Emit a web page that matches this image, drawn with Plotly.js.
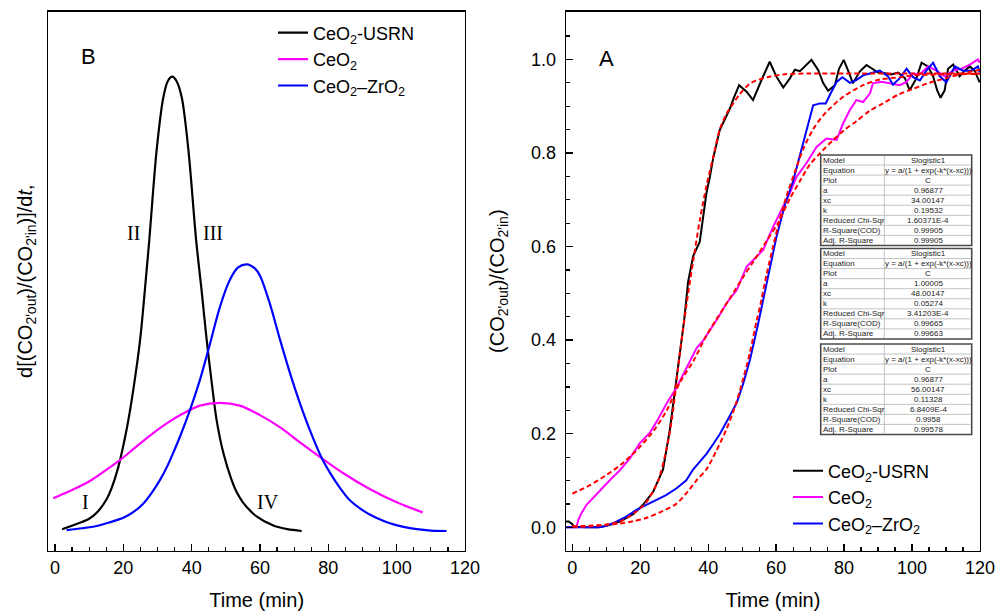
<!DOCTYPE html>
<html><head><meta charset="utf-8">
<script src="https://cdn.plot.ly/plotly-3.0.1.min.js"></script>
<style>html,body{margin:0;padding:0;background:#fff}#chart{width:1001px;height:613px}</style>
</head><body><div id="chart"></div>
<script>
// ---------- DATA ----------
const seriesNames = ["CeO<sub>2</sub>-USRN", "CeO<sub>2</sub>", "CeO<sub>2</sub>–ZrO<sub>2</sub>"];
const seriesColors = ["#000000", "#ff00ff", "#0000ff"];
const fitColor = "#ff0000";

// Panel B : derivative curves [time, relative value]
const derivUSRN = [[2.1,0.004],[7.3,0.018],[10.0,0.027],[12.2,0.040],[15.1,0.070],[16.6,0.095],[18.5,0.140],[21.0,0.225],[22.9,0.310],[24.9,0.420],[26.3,0.530],[27.6,0.641],[29.8,0.842],[31.7,0.954],[33.0,0.990],[34.3,1.0],[35.6,0.990],[37.1,0.954],[39.0,0.842],[41.3,0.641],[42.9,0.530],[44.4,0.420],[45.9,0.325],[47.3,0.244],[49.3,0.171],[51.7,0.112],[53.2,0.085],[55.1,0.062],[59.0,0.032],[63.9,0.012],[68.0,0.004],[72.2,0.0]];
const derivCeO2 = [[-0.5,0.072],[5.0,0.090],[10.2,0.110],[13.2,0.125],[18.5,0.153],[22.9,0.180],[27.8,0.210],[32.7,0.237],[37.6,0.259],[42.4,0.276],[48.3,0.282],[54.1,0.276],[60.0,0.255],[65.9,0.228],[71.7,0.195],[78.1,0.160],[84.4,0.127],[91.7,0.094],[100.0,0.063],[107.6,0.041]];
const derivZr = [[3.4,0.002],[8.0,0.006],[12.2,0.011],[16.0,0.019],[20.0,0.029],[23.0,0.042],[25.8,0.060],[28.3,0.084],[30.7,0.112],[32.7,0.140],[34.6,0.172],[36.6,0.208],[39.5,0.266],[42.4,0.332],[45.4,0.413],[48.3,0.494],[51.2,0.553],[53.6,0.580],[56.1,0.587],[58.5,0.578],[60.0,0.562],[62.9,0.500],[65.9,0.420],[68.8,0.347],[71.7,0.281],[74.6,0.222],[78.1,0.160],[80.5,0.128],[83.4,0.095],[86.0,0.070],[90.2,0.045],[94.0,0.029],[98.0,0.017],[102.0,0.009],[105.9,0.004],[110.0,0.001],[114.6,0.0]];
const romanLabels = ["I", "II", "III", "IV"];

// Panel A : breakthrough curves [time, (CO2out)/(CO2in)]
const convUSRN = [[-1.85,0.012],[-1.2,0.013],[-0.2,0.008],[0.6,0.001],[4,0],[7.6,0],[10.1,0.003],[14.0,0.012],[17.9,0.028],[20.8,0.048],[23.8,0.076],[26.7,0.123],[28.7,0.208],[29.7,0.266],[31.7,0.374],[32.9,0.441],[34.1,0.525],[35.6,0.580],[37.5,0.610],[39.5,0.715],[40.5,0.749],[41.5,0.790],[43.4,0.849],[45.4,0.880],[46.4,0.895],[47.4,0.915],[49.1,0.945],[51.3,0.931],[53.2,0.913],[55.7,0.956],[58.1,0.995],[60.1,0.963],[62.1,0.940],[64.0,0.959],[65.5,0.978],[67.0,0.975],[68.4,0.985],[70.4,0.999],[72.4,0.977],[73.8,0.950],[75.3,0.933],[77.3,0.945],[78.5,0.980],[79.9,0.999],[81.5,0.970],[82.6,0.949],[84.6,0.974],[86.6,0.988],[88.3,0.980],[90.0,0.972],[92.5,0.970],[93.9,0.968],[95.9,0.972],[97.9,0.960],[99.3,0.934],[101.3,0.960],[102.8,0.993],[104.7,0.985],[106.2,0.964],[107.4,0.934],[108.4,0.918],[109.6,0.934],[110.6,0.980],[112.1,0.989],[114.0,0.964],[115.5,0.976],[117.0,0.985],[118.4,0.976],[119.9,0.951]];
const convCeO2 = [[-1.85,0],[1.2,0],[1.8,0.016],[2.7,0.030],[4.2,0.048],[6.2,0.064],[8.6,0.083],[11.1,0.101],[14.0,0.122],[17.0,0.148],[19.9,0.180],[22.9,0.203],[25.0,0.228],[27.8,0.265],[30.7,0.299],[33.6,0.341],[36.6,0.383],[38.5,0.399],[41.5,0.433],[42.5,0.443],[45.4,0.479],[48.4,0.507],[51.3,0.557],[54.2,0.578],[56.2,0.593],[59.1,0.642],[62.1,0.685],[64.0,0.714],[66.0,0.749],[68.9,0.778],[71.9,0.813],[74.8,0.831],[77.8,0.828],[79.7,0.863],[81.7,0.892],[83.6,0.913],[85.6,0.909],[87.6,0.927],[88.5,0.949],[91.0,0.952],[93.4,0.949],[96.4,0.945],[98.4,0.952],[100.3,0.970],[102.3,0.968],[104.7,0.985],[107.2,0.976],[109.6,0.964],[112.1,0.976],[114.5,0.980],[117.0,0.989],[119.4,1.0],[119.9,0.993]];
const convZr = [[-1.85,0],[8,0],[10.1,0.003],[13.0,0.012],[15.9,0.023],[18.9,0.037],[21.8,0.048],[24.7,0.058],[27.6,0.069],[30.6,0.083],[33.5,0.100],[35.6,0.124],[37.6,0.140],[39.5,0.157],[41.5,0.178],[43.4,0.199],[45.9,0.232],[48.4,0.266],[50.3,0.307],[52.3,0.358],[54.7,0.435],[57.2,0.521],[60.1,0.621],[62.6,0.690],[65.0,0.740],[67.0,0.795],[68.9,0.845],[70.9,0.902],[72.9,0.906],[74.6,0.906],[75.8,0.924],[77.8,0.952],[79.5,0.962],[81.7,0.950],[83.6,0.956],[85.6,0.966],[87.6,0.970],[90.5,0.976],[92.9,0.964],[94.4,0.946],[96.4,0.960],[98.4,0.980],[100.3,0.962],[102.3,0.955],[104.2,0.976],[106.2,0.993],[108.2,0.964],[110.1,0.951],[112.6,0.985],[115.0,0.976],[117.5,0.976],[119.4,0.985],[119.9,0.972]];

// Slogistic1 fitted curves (red dashed)
const fitUSRN = [[0,0.001],[5,0.002],[10,0.006],[14,0.012],[18,0.029],[21.8,0.054],[25.3,0.100],[27.8,0.170],[29.3,0.230],[31.7,0.374],[33.6,0.475],[35.6,0.570],[37.6,0.659],[39.5,0.730],[41.5,0.792],[43.4,0.850],[45.4,0.884],[47.4,0.906],[49.3,0.926],[52.2,0.948],[54.2,0.955],[58,0.963],[62.1,0.968],[70,0.970],[80,0.970],[100,0.970],[120,0.970]];
const fitCeO2 = [[0,0.072],[5.2,0.090],[10.1,0.112],[15.0,0.138],[19.9,0.172],[24.3,0.210],[27.8,0.250],[31.7,0.310],[35.6,0.355],[39.5,0.410],[42.0,0.440],[46,0.485],[50.3,0.535],[53.5,0.570],[57.2,0.612],[60.5,0.650],[64.0,0.702],[67,0.740],[69.9,0.775],[73,0.800],[76.8,0.828],[80.2,0.850],[83.6,0.868],[87.5,0.890],[91.5,0.906],[96,0.925],[100.3,0.937],[105,0.950],[110,0.960],[115,0.970],[120,0.978]];
const fitZr = [[0,0.002],[10,0.005],[14,0.008],[17.9,0.013],[21.8,0.020],[26.7,0.035],[30.6,0.050],[33.6,0.073],[36.5,0.100],[39.5,0.124],[42.5,0.165],[45.4,0.210],[47.5,0.250],[49.3,0.291],[52.3,0.374],[54.2,0.440],[55.2,0.470],[57.2,0.541],[59.1,0.600],[61.1,0.659],[63.1,0.709],[65.5,0.759],[68.0,0.809],[70.9,0.851],[73.8,0.880],[75.8,0.895],[79.7,0.920],[85.6,0.945],[90.5,0.957],[96.4,0.962],[100.3,0.966],[110,0.968],[120,0.969]];

// Fit-result tables
const tableRowLabels = ["Model","Equation","Plot","a","xc","k","Reduced Chi-Sqr","R-Square(COD)","Adj. R-Square"];
const fitTableUSRN = ["Slogistic1","y = a/(1 + exp(-k*(x-xc)))","C","0.96877","34.00147","0.19532","1.60371E-4","0.99905","0.99905"];
const fitTableCeO2 = ["Slogistic1","y = a/(1 + exp(-k*(x-xc)))","C","1.00005","48.00147","0.05274","3.41203E-4","0.99665","0.99663"];
const fitTableZr   = ["Slogistic1","y = a/(1 + exp(-k*(x-xc)))","C","0.96877","56.00147","0.11328","6.8409E-4","0.9958","0.99578"];

// ---------- DRAWING ----------
const W = 1001, H = 613;
const PX = p => p / W;
const PY = p => 1 - p / H;
const FONT = "Liberation Sans, Arial, Helvetica, sans-serif";
const xs = arr => arr.map(p => p[0]);
const ys = arr => arr.map(p => p[1]);

const traces = [];
[derivUSRN, derivCeO2, derivZr].forEach((s, i) => {
  traces.push({x: xs(s), y: ys(s), xaxis: "x", yaxis: "y", type: "scatter", mode: "lines",
    name: seriesNames[i], legend: "legend", legendgroup: "b" + i,
    line: {color: seriesColors[i], width: 2.2, shape: "spline", smoothing: 0.9}});
});
[convUSRN, convCeO2, convZr].forEach((s, i) => {
  traces.push({x: xs(s), y: ys(s), xaxis: "x2", yaxis: "y2", type: "scatter", mode: "lines",
    name: seriesNames[i], legend: "legend2", legendgroup: "a" + i,
    line: {color: seriesColors[i], width: 2}});
});
[fitUSRN, fitCeO2, fitZr].forEach((s, i) => {
  traces.push({x: xs(s), y: ys(s), xaxis: "x2", yaxis: "y2", type: "scatter", mode: "lines",
    showlegend: false, hoverinfo: "skip",
    line: {color: fitColor, width: 2, dash: "5px,3px", shape: "spline", smoothing: 0.8}});
});

const axisBase = {
  showline: true, mirror: true, linecolor: "#000", linewidth: 1.3,
  showgrid: false, zeroline: false,
  ticks: "inside", tickcolor: "#000", tickwidth: 1.3, ticklen: 7,
  tickfont: {family: FONT, size: 18, color: "#000"}
};
const yDomain = [PY(550.7), PY(11.7)];

const layout = {
  width: W, height: H, margin: {l: 0, r: 0, t: 0, b: 0},
  paper_bgcolor: "#fff", plot_bgcolor: "#fff",
  font: {family: FONT, color: "#000"},
  showlegend: true,
  xaxis: Object.assign({}, axisBase, {
    domain: [PX(48.3), PX(465)], anchor: "y", range: [-1.96, 120], tick0: 0, dtick: 20,
    minor: {ticks: "inside", dtick: 5, ticklen: 4, tickcolor: "#000", tickwidth: 1.2},
    title: {text: "Time (min)", font: {family: FONT, size: 20, color: "#000"}, standoff: 16}
  }),
  yaxis: Object.assign({}, axisBase, {
    domain: yDomain, anchor: "x", range: [-0.0434, 1.143],
    showticklabels: false, ticks: "",
    title: {text: "d[(CO<sub>2'out</sub>)/(CO<sub>2'in</sub>)]/d<i>t</i>,", font: {family: FONT, size: 20, color: "#000"}, standoff: 9}
  }),
  xaxis2: Object.assign({}, axisBase, {
    domain: [PX(566), PX(980)], anchor: "y2", range: [-1.85, 120], tick0: 0, dtick: 20,
    minor: {ticks: "inside", dtick: 5, ticklen: 4, tickcolor: "#000", tickwidth: 1.2},
    title: {text: "Time (min)", font: {family: FONT, size: 20, color: "#000"}, standoff: 16}
  }),
  yaxis2: Object.assign({}, axisBase, {
    domain: yDomain, anchor: "x2", range: [-0.05, 1.102], tick0: 0, dtick: 0.2, tickformat: ".1f",
    ticklabelstandoff: 5,
    minor: {ticks: "inside", dtick: 0.05, ticklen: 4, tickcolor: "#000", tickwidth: 1.2},
    title: {text: "(CO<sub>2'out</sub>)/(CO<sub>2'in</sub>)", font: {family: FONT, size: 20, color: "#000"}, standoff: 21}
  }),
  legend: {x: PX(273), y: PY(14.5), xanchor: "left", yanchor: "top", bgcolor: "rgba(0,0,0,0)",
    font: {family: FONT, size: 18, color: "#000"}, tracegroupgap: 0, traceorder: "grouped"},
  legend2: {x: PX(788), y: PY(452.5), xanchor: "left", yanchor: "top", bgcolor: "rgba(0,0,0,0)",
    font: {family: FONT, size: 18, color: "#000"}, tracegroupgap: 0, traceorder: "grouped"},
  shapes: [],
  annotations: []
};

// panel letters and region numerals
layout.annotations.push({text: "B", xref: "paper", yref: "paper", x: PX(88.3), y: PY(57), showarrow: false,
  xanchor: "center", yanchor: "middle", font: {family: FONT, size: 22, color: "#000"}});
layout.annotations.push({text: "A", xref: "paper", yref: "paper", x: PX(606.7), y: PY(58.5), showarrow: false,
  xanchor: "center", yanchor: "middle", font: {family: FONT, size: 22, color: "#000"}});
const romanPos = [[85, 501.7], [133.3, 232.8], [213.3, 232.8], [268.3, 501.7]];
romanLabels.forEach((t, i) => {
  layout.annotations.push({text: t, xref: "paper", yref: "paper", x: PX(romanPos[i][0]), y: PY(romanPos[i][1]),
    showarrow: false, xanchor: "center", yanchor: "middle",
    font: {family: "Liberation Serif, Times New Roman, serif", size: 20, color: "#000"}});
});

// fit tables
const tLeft = 820.7, tSep = 884.3, tRight = 971.7, rowH = 10.05;
const tableTops = [155, 248.5, 344];
[fitTableUSRN, fitTableCeO2, fitTableZr].forEach((vals, t) => {
  const top = tableTops[t], bot = top + rowH * tableRowLabels.length;
  layout.shapes.push({type: "rect", xref: "paper", yref: "paper", layer: "above",
    x0: PX(tLeft), x1: PX(tRight), y0: PY(bot), y1: PY(top),
    fillcolor: "#ffffff", line: {color: "#4a4a4a", width: 1.6}});
  for (let r = 1; r < tableRowLabels.length; r++) {
    layout.shapes.push({type: "line", xref: "paper", yref: "paper", layer: "above",
      x0: PX(tLeft + 1), x1: PX(tRight - 1), y0: PY(top + r * rowH), y1: PY(top + r * rowH),
      line: {color: "#b4b4b4", width: 0.8}});
  }
  layout.shapes.push({type: "line", xref: "paper", yref: "paper", layer: "above",
    x0: PX(tSep), x1: PX(tSep), y0: PY(bot - 1), y1: PY(top + 1),
    line: {color: "#b4b4b4", width: 0.8}});
  tableRowLabels.forEach((lab, r) => {
    const yc = PY(top + rowH * (r + 0.5));
    layout.annotations.push({text: lab, xref: "paper", yref: "paper", x: PX(tLeft + 1.5), y: yc,
      showarrow: false, xanchor: "left", yanchor: "middle", borderpad: 0,
      font: {family: FONT, size: 8, color: "#222"}});
    layout.annotations.push({text: vals[r], xref: "paper", yref: "paper", x: PX((tSep + tRight) / 2), y: yc,
      showarrow: false, xanchor: "center", yanchor: "middle", borderpad: 0,
      font: {family: FONT, size: 8, color: "#222"}});
  });
});

Plotly.newPlot("chart", traces, layout, {displayModeBar: false, staticPlot: true});
</script></body></html>
